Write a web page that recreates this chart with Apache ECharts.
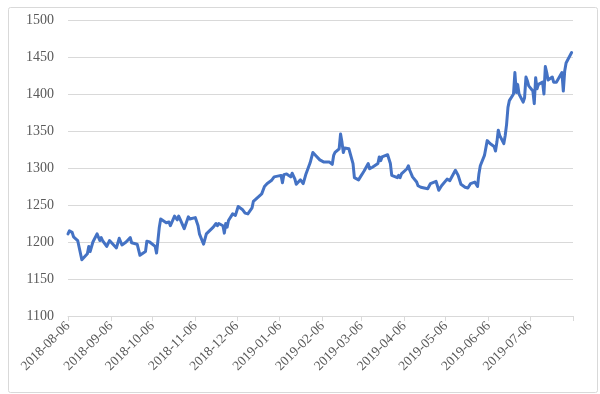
<!DOCTYPE html>
<html>
<head>
<meta charset="utf-8">
<script src="https://cdn.jsdelivr.net/npm/echarts@6/dist/echarts.min.js"></script>
<style>
html,body{margin:0;padding:0;background:#fff;}
#c{width:600px;height:394px;}
</style>
</head>
<body>
<div id="c"></div>
<script>
// Trading dates (YYYY-MM-DD)
var dates = [
'2018-08-06','2018-08-07','2018-08-09','2018-08-10','2018-08-13','2018-08-16','2018-08-20','2018-08-21','2018-08-22','2018-08-24',
'2018-08-27','2018-08-29','2018-08-30','2018-08-31','2018-09-03','2018-09-05','2018-09-07','2018-09-10','2018-09-12','2018-09-13',
'2018-09-14','2018-09-17','2018-09-20','2018-09-21','2018-09-25','2018-09-27','2018-09-28','2018-10-01','2018-10-02','2018-10-04',
'2018-10-08','2018-10-09','2018-10-10','2018-10-11','2018-10-12','2018-10-16','2018-10-18','2018-10-19','2018-10-22','2018-10-24',
'2018-10-25','2018-10-26','2018-10-29','2018-10-30','2018-11-01','2018-11-02','2018-11-06','2018-11-08','2018-11-09','2018-11-12',
'2018-11-14','2018-11-19','2018-11-21','2018-11-22','2018-11-23','2018-11-26','2018-11-27','2018-11-28','2018-11-29','2018-11-30',
'2018-12-03','2018-12-05','2018-12-07','2018-12-10','2018-12-12','2018-12-14','2018-12-17','2018-12-18','2018-12-21','2018-12-24',
'2018-12-26','2018-12-28','2018-12-31','2019-01-02','2019-01-07','2019-01-08','2019-01-09','2019-01-11','2019-01-14','2019-01-15',
'2019-01-17','2019-01-18','2019-01-21','2019-01-23','2019-01-25','2019-01-28','2019-01-30','2019-02-01','2019-02-04','2019-02-05',
'2019-02-07','2019-02-08','2019-02-11','2019-02-12','2019-02-13','2019-02-14','2019-02-15','2019-02-18','2019-02-19','2019-02-20',
'2019-02-21','2019-02-22','2019-02-25','2019-02-26','2019-02-28','2019-03-01','2019-03-04','2019-03-06','2019-03-07','2019-03-08',
'2019-03-11','2019-03-12','2019-03-14','2019-03-15','2019-03-18','2019-03-19','2019-03-20','2019-03-21','2019-03-25','2019-03-26',
'2019-03-27','2019-03-28','2019-03-29','2019-04-01','2019-04-02','2019-04-03','2019-04-04','2019-04-05','2019-04-08','2019-04-09',
'2019-04-10','2019-04-12','2019-04-15','2019-04-16','2019-04-18','2019-04-23','2019-04-25','2019-04-26','2019-04-29','2019-05-01',
'2019-05-03','2019-05-07','2019-05-09','2019-05-10','2019-05-13','2019-05-15','2019-05-17','2019-05-20','2019-05-22','2019-05-24',
'2019-05-27','2019-05-28','2019-05-29','2019-05-30','2019-05-31','2019-06-03','2019-06-05','2019-06-07','2019-06-10','2019-06-11',
'2019-06-12','2019-06-13','2019-06-14','2019-06-17','2019-06-18','2019-06-19','2019-06-20','2019-06-21','2019-06-24','2019-06-25',
'2019-06-26','2019-06-27','2019-06-28','2019-07-01','2019-07-02','2019-07-03','2019-07-04','2019-07-05','2019-07-08','2019-07-09',
'2019-07-10','2019-07-11','2019-07-12','2019-07-15','2019-07-16','2019-07-17','2019-07-18','2019-07-19','2019-07-22','2019-07-23',
'2019-07-24','2019-07-25','2019-07-29','2019-07-30','2019-07-31','2019-08-01','2019-08-05'
];
var prices = [
1211,1215,1213,1207,1202,1176,1184,1194,1187,1200,
1211,1202,1206,1202,1194,1202,1198,1192,1205,1204,
1196,1200,1206,1199,1197,1182,1183,1187,1201,1200,
1194,1185,1202,1220,1231,1226,1227,1222,1235,1230,
1235,1231,1218,1216,1234,1231,1233,1222,1211,1197,
1211,1220,1225,1222,1225,1222,1212,1225,1220,1229,
1238,1236,1248,1244,1239,1238,1246,1255,1260,1265,
1275,1279,1283,1288,1290,1280,1291,1292,1288,1293,
1285,1278,1284,1279,1292,1307,1321,1317,1311,1312,
1308,1310,1308,1310,1305,1317,1321,1326,1346,1335,
1321,1327,1326,1324,1306,1287,1284,1290,1293,1296,
1306,1299,1301,1303,1306,1315,1310,1315,1318,1317,
1306,1290,1291,1287,1290,1287,1292,1293,1299,1303,
1297,1288,1281,1276,1274,1272,1279,1281,1282,1270,
1276,1285,1283,1282,1297,1290,1278,1274,1273,1279,
1281,1281,1275,1292,1303,1317,1337,1333,1329,1323,
1335,1351,1344,1333,1344,1359,1382,1391,1400,1429,
1402,1413,1400,1389,1395,1423,1418,1411,1404,1387,
1422,1407,1413,1416,1400,1437,1429,1419,1423,1416,
1417,1416,1429,1404,1431,1442,1456
];
// Axis tick dates and y-axis ticks
var tickDates = ['2018-08-06','2018-09-06','2018-10-06','2018-11-06','2018-12-06','2019-01-06',
                 '2019-02-06','2019-03-06','2019-04-06','2019-05-06','2019-06-06','2019-07-06','2019-08-06'];
var labelDates = tickDates.slice(0, 12);
var yTicks = [1100,1150,1200,1250,1300,1350,1400,1450,1500];

var DAY = 86400000;
function dayNum(s){ var p = s.split('-'); return Math.round(Date.UTC(+p[0], +p[1]-1, +p[2]) / DAY); }
function pad(n){ return (n<10?'0':'')+n; }
function fmt(v){ var d = new Date(Math.round(v) * DAY); return d.getUTCFullYear()+'-'+pad(d.getUTCMonth()+1)+'-'+pad(d.getUTCDate()); }

var seriesData = dates.map(function(d,i){ return [dayNum(d), prices[i]]; });
var font = '"Liberation Serif", "DejaVu Serif", serif';

var chart = echarts.init(document.getElementById('c'), null, {renderer:'canvas'});
chart.setOption({
  animation:false,
  backgroundColor:'#ffffff',
  graphic:[{
    type:'rect', left:6, top:5, shape:{width:589, height:385, r:2},
    style:{fill:'none', stroke:'#d9d9d9', lineWidth:1}, silent:true, z:-1
  }],
  grid:{left:68, right:27, top:20, bottom:78, containLabel:false},
  xAxis:{
    type:'value',
    min: dayNum(tickDates[0]), max: dayNum(tickDates[tickDates.length-1]),
    axisLine:{show:true, lineStyle:{color:'#d9d9d9', width:1}},
    axisTick:{show:true, length:5, lineStyle:{color:'#d9d9d9'}, customValues: tickDates.map(dayNum)},
    axisLabel:{
      show:true, rotate:45, margin:8, color:'#595959', fontSize:13.5, fontFamily:font,
      customValues: labelDates.map(dayNum), formatter:function(v){ return fmt(v); },
      showMinLabel:true, hideOverlap:false
    },
    splitLine:{show:false}
  },
  yAxis:{
    type:'value', min:yTicks[0], max:yTicks[yTicks.length-1], interval:yTicks[1]-yTicks[0],
    axisLine:{show:false}, axisTick:{show:false},
    axisLabel:{color:'#595959', fontSize:14, fontFamily:font, margin:14, formatter:function(v){ return String(v); }},
    splitLine:{show:true, lineStyle:{color:'#d9d9d9', width:1}}
  },
  series:[{
    type:'line', data:seriesData, showSymbol:false, symbol:'none',
    lineStyle:{color:'#4472C4', width:3, join:'round', cap:'round'},
    itemStyle:{color:'#4472C4'}
  }]
});
</script>
</body>
</html>
